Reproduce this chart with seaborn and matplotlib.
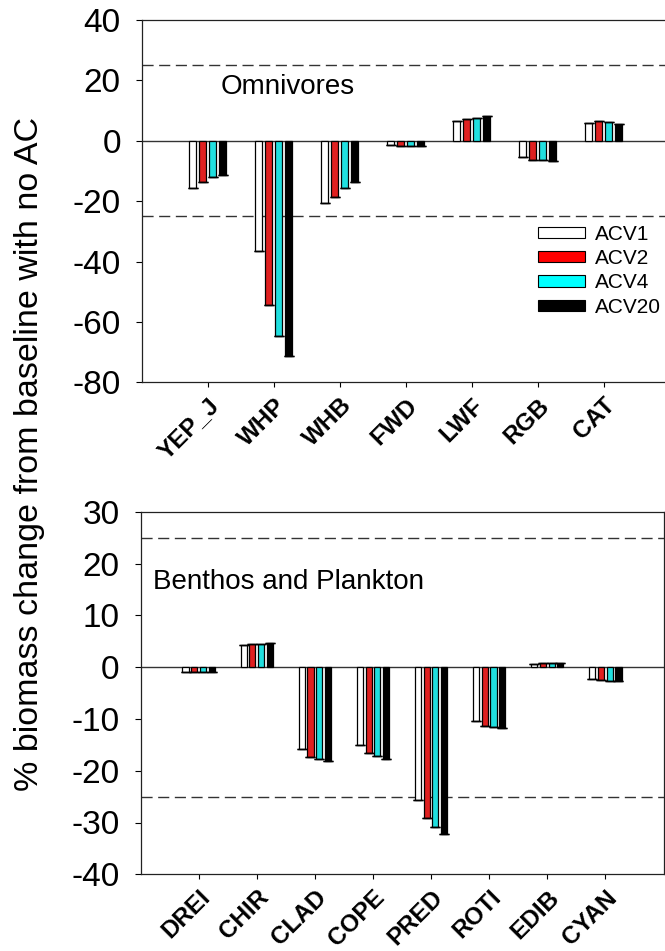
import numpy as np
import pandas as pd
import matplotlib
matplotlib.use("Agg")
import matplotlib.pyplot as plt
from matplotlib.patches import Patch
import seaborn as sns

# ---- data ----
scenarios = ["ACV1", "ACV2", "ACV4", "ACV20"]
colors = ["#FFFFFF", "#FF0000", "#00FFFF", "#000000"]

top_cats = ["YEP_J", "WHP", "WHB", "FWD", "LWF", "RGB", "CAT"]
acv1_top = [-15.5, -36.5, -20.6, -1.5, 6.4, -5.5, 6.0]
acv2_top = [-13.5, -54.4, -18.6, -1.6, 7.3, -6.3, 6.6]
acv4_top = [-11.9, -64.8, -15.8, -1.6, 7.7, -6.5, 6.1]
acv20_top = [-11.2, -71.4, -13.7, -1.7, 8.2, -6.8, 5.6]

bot_cats = ["DREI", "CHIR", "CLAD", "COPE", "PRED", "ROTI", "EDIB", "CYAN"]
acv1_bot = [-0.9, 4.2, -15.8, -15.0, -25.7, -10.4, 0.6, -2.3]
acv2_bot = [-1.0, 4.4, -17.3, -16.5, -29.1, -11.3, 0.7, -2.5]
acv4_bot = [-1.0, 4.5, -17.8, -17.2, -30.9, -11.6, 0.8, -2.6]
acv20_bot = [-1.0, 4.6, -18.2, -17.7, -32.2, -11.8, 0.8, -2.7]

top_yticks = [40, 20, 0, -20, -40, -60, -80]
bot_yticks = [30, 20, 10, 0, -10, -20, -30, -40]
threshold = 25


def long_df(cats, series):
    rows = []
    for name, vals in zip(scenarios, series):
        for c, v in zip(cats, vals):
            rows.append({"cat": c, "scen": name, "val": v})
    return pd.DataFrame(rows)


df_top = long_df(top_cats, [acv1_top, acv2_top, acv4_top, acv20_top])
df_bot = long_df(bot_cats, [acv1_bot, acv2_bot, acv4_bot, acv20_bot])

sns.set_style("ticks")
plt.rcParams["font.family"] = ["Liberation Sans", "DejaVu Sans"]
for k in ["text.color", "axes.labelcolor", "xtick.color", "ytick.color"]:
    plt.rcParams[k] = "black"

W, H = 665, 951
fig = plt.figure(figsize=(W / 100, H / 100), dpi=100)

ax1 = fig.add_axes([141.7 / W, 1 - 382.3 / H, 528.0 / W, 362.3 / H])
ax2 = fig.add_axes([140.5 / W, 1 - 874.3 / H, 523.0 / W, 362.6 / H])

line_col = "#333333"


def draw(ax, df, cats, ylim, yticks, label, label_xy):
    sns.barplot(data=df, x="cat", y="val", hue="scen", order=cats,
                hue_order=scenarios, palette=colors, width=0.6, gap=0.3,
                edgecolor="black", linewidth=0.9, errorbar=None,
                legend=False, ax=ax, zorder=3)
    # caps at bar ends
    xs, ys = [], []
    for p in ax.patches:
        xs.append(p.get_x() + p.get_width() / 2)
        ys.append(p.get_y() + p.get_height())
    ax.errorbar(xs, ys, yerr=np.zeros(len(xs)), fmt="none", ecolor="black",
                elinewidth=0, capsize=3.4, capthick=1.0, zorder=4)
    ax.axhline(0, color=line_col, lw=1.0, zorder=2)
    ax.axhline(threshold, color=line_col, lw=1.0, ls=(0, (8, 4)), zorder=2)
    ax.axhline(-threshold, color=line_col, lw=1.0, ls=(0, (8, 4)), zorder=2)
    ax.set_xlim(-1, len(cats))
    ax.set_ylim(*ylim)
    ax.set_yticks(yticks)
    ax.set_yticklabels([str(t) for t in yticks], fontsize=24)
    ax.set_xlabel("")
    ax.set_ylabel("")
    ax.tick_params(axis="y", direction="out", length=4, width=0.8, pad=11)
    ax.tick_params(axis="x", direction="out", length=3.3, width=0.8, pad=5)
    ax.set_xticks(range(len(cats)))
    ax.set_xticklabels(cats, fontsize=17.5, fontweight="bold")
    for lab in ax.get_xticklabels():
        lab.set_rotation(45)
        lab.set_ha("right")
        lab.set_va("top")
        lab.set_rotation_mode("anchor")
    for s in ax.spines.values():
        s.set_visible(True)
        s.set_color("#222222")
        s.set_linewidth(0.9)
    ax.text(label_xy[0], label_xy[1], label, fontsize=20, ha="left",
            va="center", zorder=5)


draw(ax1, df_top, top_cats, (-80, 40), top_yticks, "Omnivores", (0.2, 17.9))
draw(ax2, df_bot, bot_cats, (-40, 30), bot_yticks, "Benthos and Plankton",
     (-0.79, 16.5))

handles = [Patch(facecolor=c, edgecolor="black", linewidth=0.8) for c in colors]
fig.legend(handles, scenarios, loc="upper left",
           bbox_to_anchor=(538.3 / W, 1 - 225.0 / H),
           bbox_transform=fig.transFigure, frameon=False, fontsize=15,
           handlelength=2.24, handleheight=0.45, handletextpad=0.5,
           labelspacing=0.25, borderpad=0, borderaxespad=0)

fig.text(30 / W, 1 - 454 / H, "% biomass change from baseline with no AC",
         rotation=90, fontsize=24.5, ha="center", va="center")

fig.savefig("out.png", dpi=100)
